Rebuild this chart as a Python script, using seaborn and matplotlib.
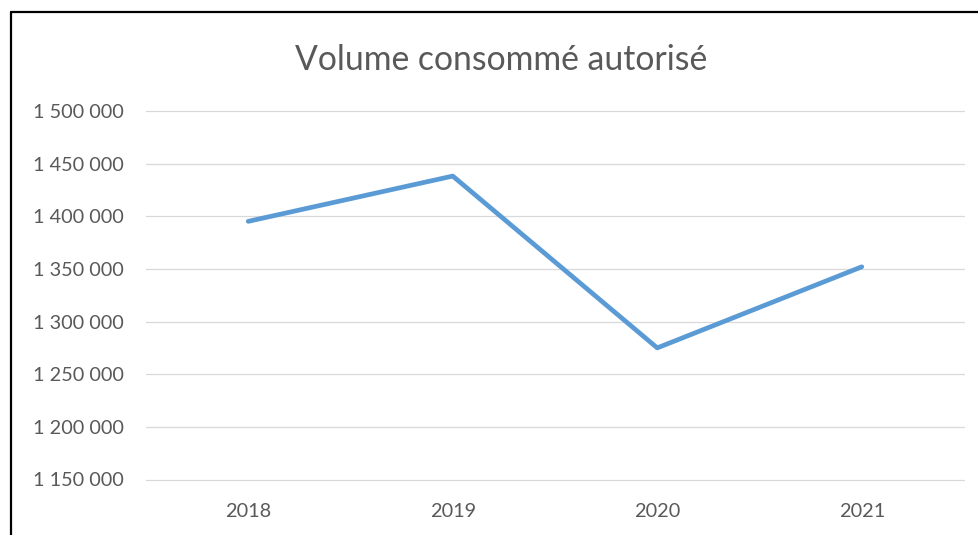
import matplotlib
matplotlib.use("Agg")
import matplotlib.pyplot as plt
import seaborn as sns
import pandas as pd
from matplotlib.lines import Line2D
from matplotlib.ticker import FuncFormatter, MultipleLocator

years = ["2018", "2019", "2020", "2021"]
volumes = [1395200, 1438200, 1275000, 1352000]
title = "Volume consommé autorisé"

sns.set_theme(style="white")
plt.rcParams["font.family"] = ["Lato", "DejaVu Sans"]

df = pd.DataFrame({"year": years, "volume": volumes})

W, H = 979, 535
fig = plt.figure(figsize=(W / 100, H / 100), dpi=100)
fig.patch.set_facecolor("white")
ax = fig.add_axes([146 / W, 1 - 479.5 / H, (964 - 146) / W, (479.5 - 111) / H])

sns.lineplot(data=df, x="year", y="volume", ax=ax, color="#5B9BD5",
             linewidth=3.4, solid_capstyle="round", solid_joinstyle="round",
             sort=False, zorder=3)

ax.set_xlim(-0.5, 3.5)
ax.set_ylim(1150000, 1500000)
ax.yaxis.set_major_locator(MultipleLocator(50000))
ax.yaxis.set_major_formatter(FuncFormatter(lambda v, p: f"{int(round(v)):,}".replace(",", " ")))
ax.grid(axis="y", color="#D9D9D9", linewidth=0.9, zorder=0)
ax.grid(axis="x", visible=False)
for gl in ax.get_ygridlines():
    gl.set_clip_on(False)
for s in ax.spines.values():
    s.set_visible(False)
ax.set_xlabel("")
ax.set_ylabel("")
ax.tick_params(axis="both", length=0, labelsize=14.3, labelcolor="#595959")
ax.tick_params(axis="y", pad=16)
ax.tick_params(axis="x", pad=17)

fig.text(501 / W, 1 - 70 / H, title, ha="center", va="baseline",
         fontsize=24.3, color="#595959")

# frame (left and top edges of the chart border)
fig.add_artist(Line2D([11 / W, 11 / W], [0, 1 - 11.5 / H], transform=fig.transFigure,
                      color="black", linewidth=1.6))
fig.add_artist(Line2D([11 / W, 1], [1 - 11.5 / H, 1 - 11.5 / H], transform=fig.transFigure,
                      color="black", linewidth=1.6))

fig.savefig("out.png", dpi=100, facecolor="white")
